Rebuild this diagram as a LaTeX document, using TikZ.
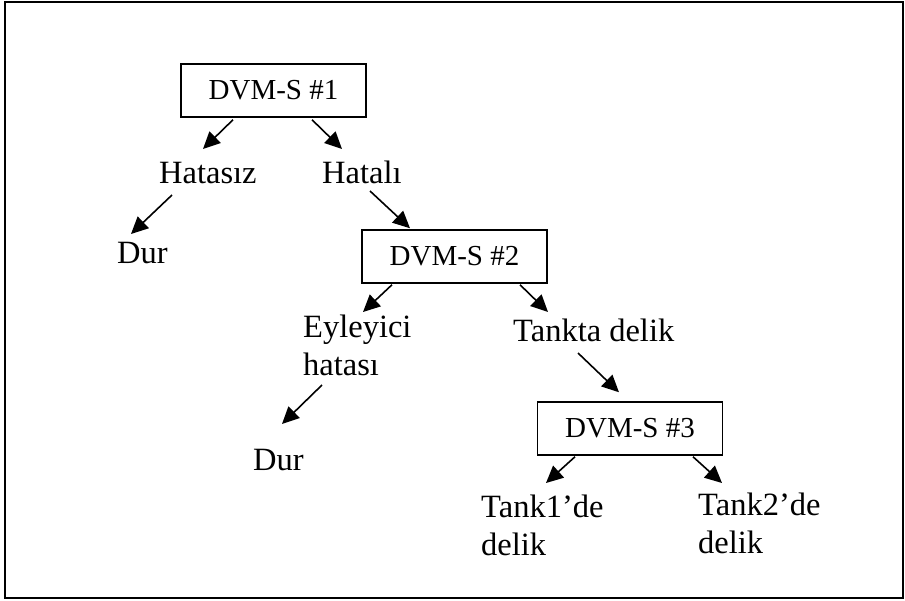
\documentclass[tikz,border=0pt]{standalone}
\usepackage{fontspec}
\setmainfont{Liberation Serif}
\usetikzlibrary{arrows.meta}
\tikzset{
  decbox/.style={draw, line width=1.5pt, minimum width=185pt, minimum height=53pt, inner sep=0pt, font=\fontsize{29}{35}\selectfont},
  lbl/.style={inner sep=0pt, anchor=base west, align=left, font=\fontsize{32.5}{37.5}\selectfont},
  arr/.style={line width=1.6pt, -{Triangle[length=17pt,width=16pt]}},
  frame/.style={draw, line width=1.8pt}
}
\begin{document}
\begin{tikzpicture}[x=1pt,y=-1pt]
\useasboundingbox (0,0) rectangle (905,600);
\draw[frame] (5,2) rectangle (903,598);
\node[decbox] (b1) at (273.5,90.5) {DVM-S \#1};
\node[decbox] (b2) at (454.5,256.5) {DVM-S \#2};
\node[decbox] (b3) at (630,428.5) {DVM-S \#3};
\node[lbl] (hs) at (159,183) {Hatasız};
\node[lbl] (hl) at (322,183) {Hatalı};
\node[lbl] (d1) at (117,263) {Dur};
\node[lbl] (ey) at (303,375) {Eyleyici\\hatası};
\node[lbl] (td) at (513,341) {Tankta delik};
\node[lbl] (d2) at (253,470) {Dur};
\node[lbl] (t1) at (481,555) {Tank1’de\\delik};
\node[lbl] (t2) at (698,553) {Tank2’de\\delik};
\draw[arr] ([shift={(-40.5,2)}]b1.south) -- ([shift={(44,-34)}]hs.base west);
\draw[arr] ([shift={(38.5,2)}]b1.south) -- ([shift={(20,-34)}]hl.base west);
\draw[arr] ([shift={(13,12)}]hs.base west) -- ([shift={(14,-29)}]d1.base west);
\draw[arr] ([shift={(48,8)}]hl.base west) -- ([shift={(-44.5,-1)}]b2.north);
\draw[arr] ([shift={(-62.5,1)}]b2.south) -- ([shift={(60,-63)}]ey.base west);
\draw[arr] ([shift={(65.5,1)}]b2.south) -- ([shift={(35,-29)}]td.base west);
\draw[arr] ([shift={(19,10)}]ey.base west) -- ([shift={(29,-46)}]d2.base west);
\draw[arr] ([shift={(65,12)}]td.base west) -- ([shift={(-11,-9)}]b3.north);
\draw[arr] ([shift={(-55,1)}]b3.south) -- ([shift={(65,-72)}]t1.base west);
\draw[arr] ([shift={(63,1)}]b3.south) -- ([shift={(24,-70)}]t2.base west);
\end{tikzpicture}
\end{document}
